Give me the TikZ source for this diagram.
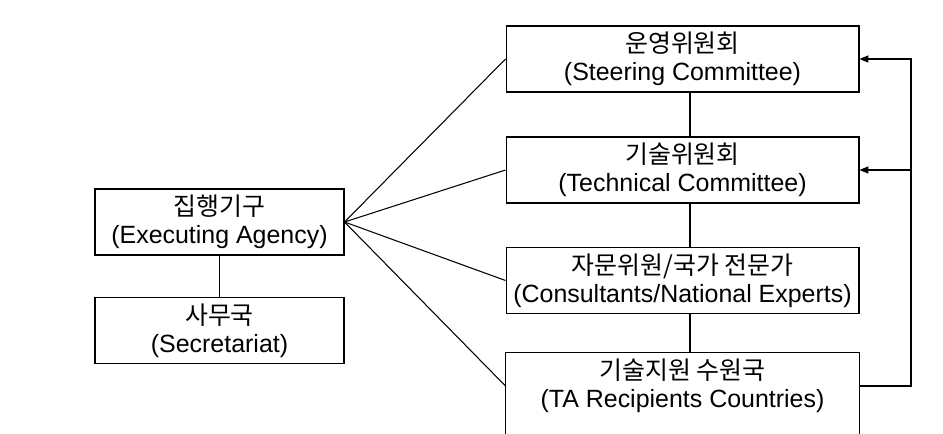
\documentclass[tikz,border=0pt]{standalone}
\usepackage{fontspec}
\setmainfont{Liberation Sans}
\newfontfamily\kor{Noto Sans CJK KR}
\usetikzlibrary{arrows.meta}

\begin{document}
\begin{tikzpicture}[x=0.02cm,y=-0.02cm,
	box/.style={draw,line width=0.6pt,align=center,minimum height=1.32cm,inner sep=0pt,font=\fontsize{14.2}{16}\selectfont},
	leftbox/.style={box,minimum width=4.98cm},
	rightbox/.style={box,minimum width=7.06cm},
	link/.style={line width=0.6pt},
	feed/.style={link,-{Triangle[length=5pt,width=4pt]}}]
			\useasboundingbox (0,0) rectangle (943,433);
			\node[leftbox] (agency) at (219.5,222) {{\kor 집행기구}\\(Executing Agency)};
			\node[leftbox] (secret) at (219.5,330.5) {{\kor 사무국}\\(Secretariat)};
			\node[rightbox] (steer) at (682.5,59) {{\kor 운영위원회}\\(Steering Committee)};
			\node[rightbox] (tech) at (682.5,170) {{\kor 기술위원회}\\(Technical Committee)};
			\node[rightbox] (consult) at (682.5,280.5) {{\kor 자문위원/국가 전문가}\\(Consultants/National Experts)};
			\node[rightbox,draw=none] (recip) at (682.5,386) {{\kor 기술지원 수원국}\\(TA Recipients Countries)};
			% box cut off by the lower edge
			\draw[link] (recip.south west) ++(0,20) -- (recip.north west) -- (recip.north east) -- ++(0,86);
			\draw[link] (agency.south) -- (secret.north);
			\foreach \n in {steer,tech,consult,recip}
			\draw[link] (agency.east) -- (\n.west);
			\foreach \a/\b in {steer/tech,tech/consult,consult/recip}
			\draw[link] ([xshift=0.15cm]\a.south) -- ([xshift=0.15cm]\b.north);
			\coordinate (rail) at (911,0);
			\draw[feed] (recip.east) -| (rail |- steer.east) -- (steer.east);
			\draw[feed] (rail |- tech.east) -- (tech.east);
	\end{tikzpicture}
\end{document}
